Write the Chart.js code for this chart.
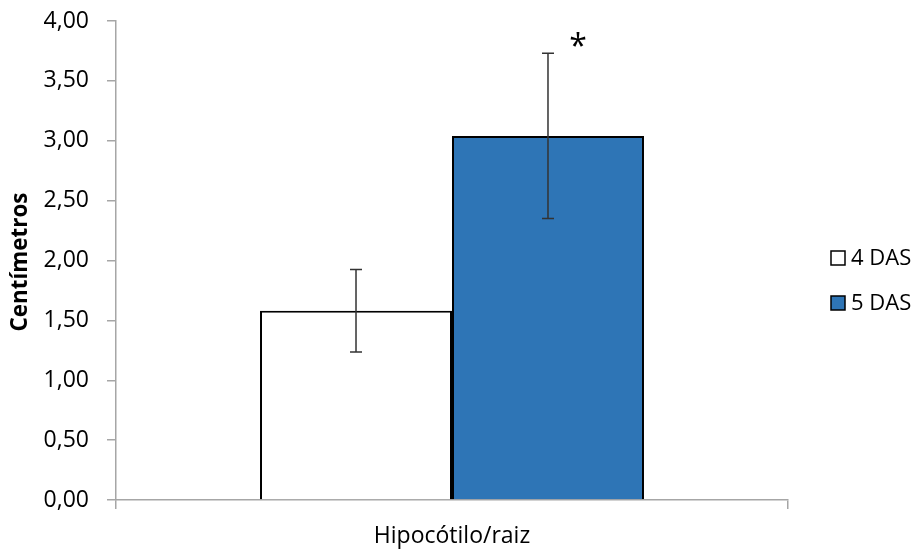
<!DOCTYPE html>
<html>
<head>
<meta charset="utf-8">
<script src="https://cdn.jsdelivr.net/npm/chart.js@4"></script>
<style>
html,body{margin:0;padding:0;background:#fff;}
#wrap{width:918px;height:552px;position:relative;}
</style>
</head>
<body>
<div id="wrap"><canvas id="c"></canvas></div>
<script>
const categories = ['Hipocótilo/raiz'];
const seriesLabels = ['4 DAS', '5 DAS'];
const values4DAS = [1.58];
const values5DAS = [3.04];
const errors4DAS = [0.345];
const errors5DAS = [0.69];
const signif4DAS = [''];
const signif5DAS = ['*'];
const yTicks = [0, 0.5, 1, 1.5, 2, 2.5, 3, 3.5, 4];
const yAxisTitle = 'Centímetros';

const FONT = '"Open Sans", "Liberation Sans", sans-serif';
const errorsBySet = [errors4DAS, errors5DAS];
const signifBySet = [signif4DAS, signif5DAS];

const errorPlugin = {
  id: 'errbars',
  afterDatasetsDraw(chart) {
    const ctx = chart.ctx;
    const y = chart.scales.y;
    chart.data.datasets.forEach((ds, di) => {
      const meta = chart.getDatasetMeta(di);
      meta.data.forEach((el, i) => {
        const v = ds.data[i];
        const e = errorsBySet[di][i];
        const yt = y.getPixelForValue(v + e);
        const yb = y.getPixelForValue(v - e);
        ctx.save();
        ctx.strokeStyle = '#333333';
        ctx.lineWidth = 1.5;
        ctx.beginPath();
        ctx.moveTo(el.x, yt); ctx.lineTo(el.x, yb);
        ctx.moveTo(el.x - 6, yt); ctx.lineTo(el.x + 6, yt);
        ctx.moveTo(el.x - 6, yb); ctx.lineTo(el.x + 6, yb);
        ctx.stroke();
        const s = signifBySet[di][i];
        if (s) {
          ctx.fillStyle = '#000';
          ctx.font = '32px ' + FONT;
          ctx.textAlign = 'center';
          ctx.textBaseline = 'alphabetic';
          ctx.fillText(s, el.x + 30, yt + 4);
        }
        ctx.restore();
      });
    });
  }
};

const titleLegendPlugin = {
  id: 'customLegend',
  afterDraw(chart) {
    const ctx = chart.ctx;
    // y-axis title
    ctx.save();
    ctx.font = 'bold 22.5px ' + FONT;
    const w = ctx.measureText(yAxisTitle).width;
    const k = 139 / w;
    ctx.translate(21, 262);
    ctx.rotate(-Math.PI / 2);
    ctx.scale(k, 1);
    ctx.fillStyle = '#000';
    ctx.textAlign = 'center';
    ctx.textBaseline = 'middle';
    ctx.fillText(yAxisTitle, 0, 0);
    ctx.restore();
    // legend
    const items = chart.data.datasets;
    const startY = 258, gap = 45, bx = 831, box = 14;
    items.forEach((ds, i) => {
      const cy = startY + i * gap;
      ctx.save();
      ctx.fillStyle = ds.backgroundColor;
      ctx.fillRect(bx, cy - box / 2, box, box);
      ctx.strokeStyle = '#000';
      ctx.lineWidth = 1.5;
      ctx.strokeRect(bx, cy - box / 2, box, box);
      ctx.fillStyle = '#000';
      ctx.font = '22px ' + FONT;
      ctx.textAlign = 'left';
      ctx.textBaseline = 'middle';
      ctx.fillText(ds.label, 851, cy + 1);
      ctx.restore();
    });
  }
};

new Chart(document.getElementById('c'), {
  type: 'bar',
  data: {
    labels: categories,
    datasets: [
      { label: seriesLabels[0], data: values4DAS, backgroundColor: '#ffffff', borderColor: '#000000', borderWidth: 2 },
      { label: seriesLabels[1], data: values5DAS, backgroundColor: '#2e75b6', borderColor: '#000000', borderWidth: 2 }
    ]
  },
  options: {
    responsive: true,
    maintainAspectRatio: false,
    animation: false,
    devicePixelRatio: 1,
    datasets: { bar: { categoryPercentage: 0.5714, barPercentage: 1.0 } },
    layout: { padding: { left: 0, top: 21, right: 130, bottom: 0 } },
    plugins: { legend: { display: false }, tooltip: { enabled: false } },
    scales: {
      x: {
        offset: true,
        grid: { display: true, drawOnChartArea: false, offset: true, tickLength: 9, color: '#a6a6a6', lineWidth: 1.5 },
        border: { display: true, color: '#a6a6a6', width: 1.5 },
        ticks: { color: '#000', font: { family: FONT, size: 23 }, padding: 14 },
        afterFit(s) { s.height = 52; }
      },
      y: {
        min: 0, max: 4,
        afterBuildTicks(s) { s.ticks = yTicks.map(v => ({ value: v })); },
        grid: { display: true, drawOnChartArea: false, tickLength: 9, color: '#a6a6a6', lineWidth: 1.5 },
        border: { display: true, color: '#a6a6a6', width: 1.5 },
        ticks: {
          color: '#000', font: { family: FONT, size: 23 }, padding: 18,
          callback: v => Number(v).toFixed(2).replace('.', ',')
        },
        title: { display: false },
        afterFit(s) { s.width = 116; s.paddingTop = 0; s.paddingBottom = 0; }
      }
    }
  },
  plugins: [errorPlugin, titleLegendPlugin]
});
</script>
</body>
</html>
